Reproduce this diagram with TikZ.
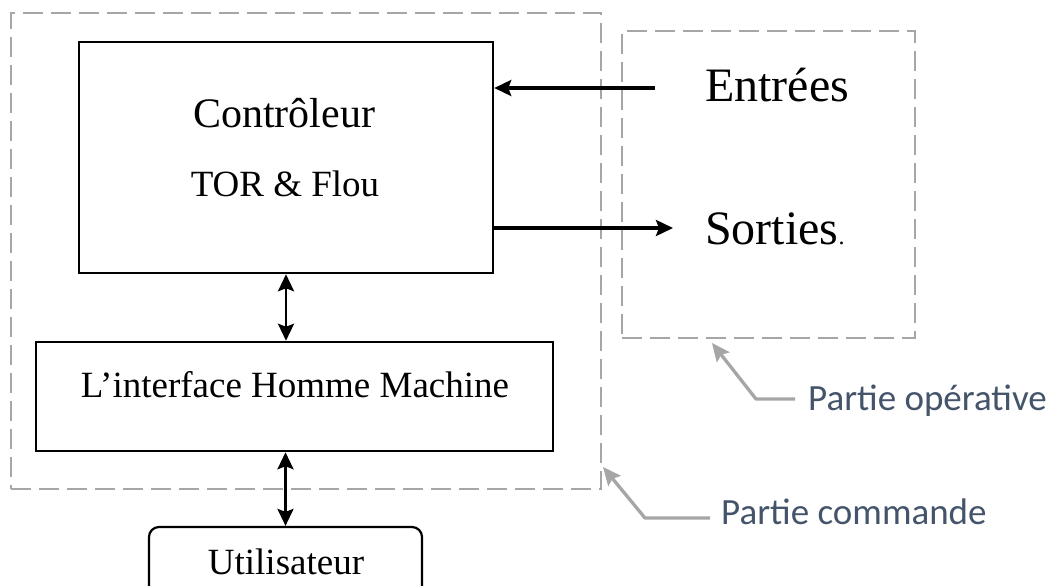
\documentclass[tikz,border=0pt]{standalone}
\usepackage{fontspec}
\setmainfont{Liberation Serif}
\newfontfamily\calibri{Carlito}
\usetikzlibrary{arrows.meta}
\definecolor{zonegray}{HTML}{A6A6A6}
\definecolor{labelblue}{HTML}{44546A}

\begin{document}
\begin{tikzpicture}[x=1pt,y=-1pt,
  box/.style={draw=black, line width=2.5pt, inner sep=0pt},
  zone/.style={draw=zonegray, line width=2.7pt, dash pattern=on 20pt off 8pt, inner sep=0pt},
  flow/.style={line width=3.4pt, -{Stealth[length=17pt,width=16pt,inset=3pt]}},
  link/.style={line width=2.8pt, {Stealth[length=17pt,width=16pt,inset=3pt]}-{Stealth[length=17pt,width=16pt,inset=3pt]}},
  callout/.style={draw=zonegray, line width=3.3pt, line join=round, -{Stealth[length=18pt,width=16pt,inset=3pt]}},
  label/.style={inner sep=0pt, anchor=base},
  partlabel/.style={inner sep=0pt, anchor=west, text=labelblue, font=\calibri\fontsize{37}{44}\selectfont}
]
\useasboundingbox (0,0) rectangle (1061,586);
\fill[white] (0,0) rectangle (1061,586);
\clip (0,0) rectangle (1061,586);

% zones
\node[zone, minimum width=590pt, minimum height=476pt] (cmd) at (306,251) {};
\node[zone, minimum width=293pt, minimum height=307pt] (op) at (768.5,184.5) {};

% controller block
\node[box, minimum width=414pt, minimum height=231pt] (ctrl) at (286,157.5) {};
\node[label, font=\fontsize{42}{50}\selectfont] (ctrlA) at (284,127) {Contrôleur};
\node[label, font=\fontsize{37}{44}\selectfont] (ctrlB) at (285,196) {TOR \& Flou};

% human machine interface
\node[box, minimum width=517pt, minimum height=109pt] (hmi) at (294.5,396.5) {};
\node[label, font=\fontsize{37}{44}\selectfont] (hmiT) at (295,397) {L’interface Homme Machine};

% user
\node[box, line width=2.2pt, rounded corners=10pt, minimum width=273pt, minimum height=80pt] (user) at (285.5,567) {};
\node[label, font=\fontsize{37}{44}\selectfont] (userT) at (286,574) {Utilisateur};

% inputs / outputs
\node[label, anchor=base west, font=\fontsize{48}{56}\selectfont] (ins) at (705,102) {Entrées};
\node[label, anchor=base west] (outs) at (705,244) {{\fontsize{48}{56}\selectfont Sorties}{\fontsize{24}{28}\selectfont .}};
\coordinate (inStart) at (655,88);
\coordinate (outEnd) at (673,228);
\draw[flow] (inStart) -- (inStart -| ctrl.east);
\draw[flow] (ctrl.east |- outEnd) -- (outEnd);

% vertical exchanges
\draw[link] (ctrl.south) -- (ctrl.south |- hmi.north);
\draw[link] (hmi.south -| user.north) -- (user.north);

% part labels
\node[partlabel] (pop) at (808,401) {Partie opérative};
\node[partlabel] (pcmd) at (721,512) {Partie commande};
\coordinate (popElbow) at (756,399);
\coordinate (popTip) at (712,343);
\coordinate (pcmdElbow) at (645,518);
\coordinate (pcmdTip) at (603,467);
\draw[callout] ([xshift=-13pt,yshift=2pt]pop.west) -- (popElbow) -- (popTip);
\draw[callout] ([xshift=-11pt,yshift=-6pt]pcmd.west) -- (pcmdElbow) -- (pcmdTip);
\end{tikzpicture}
\end{document}
